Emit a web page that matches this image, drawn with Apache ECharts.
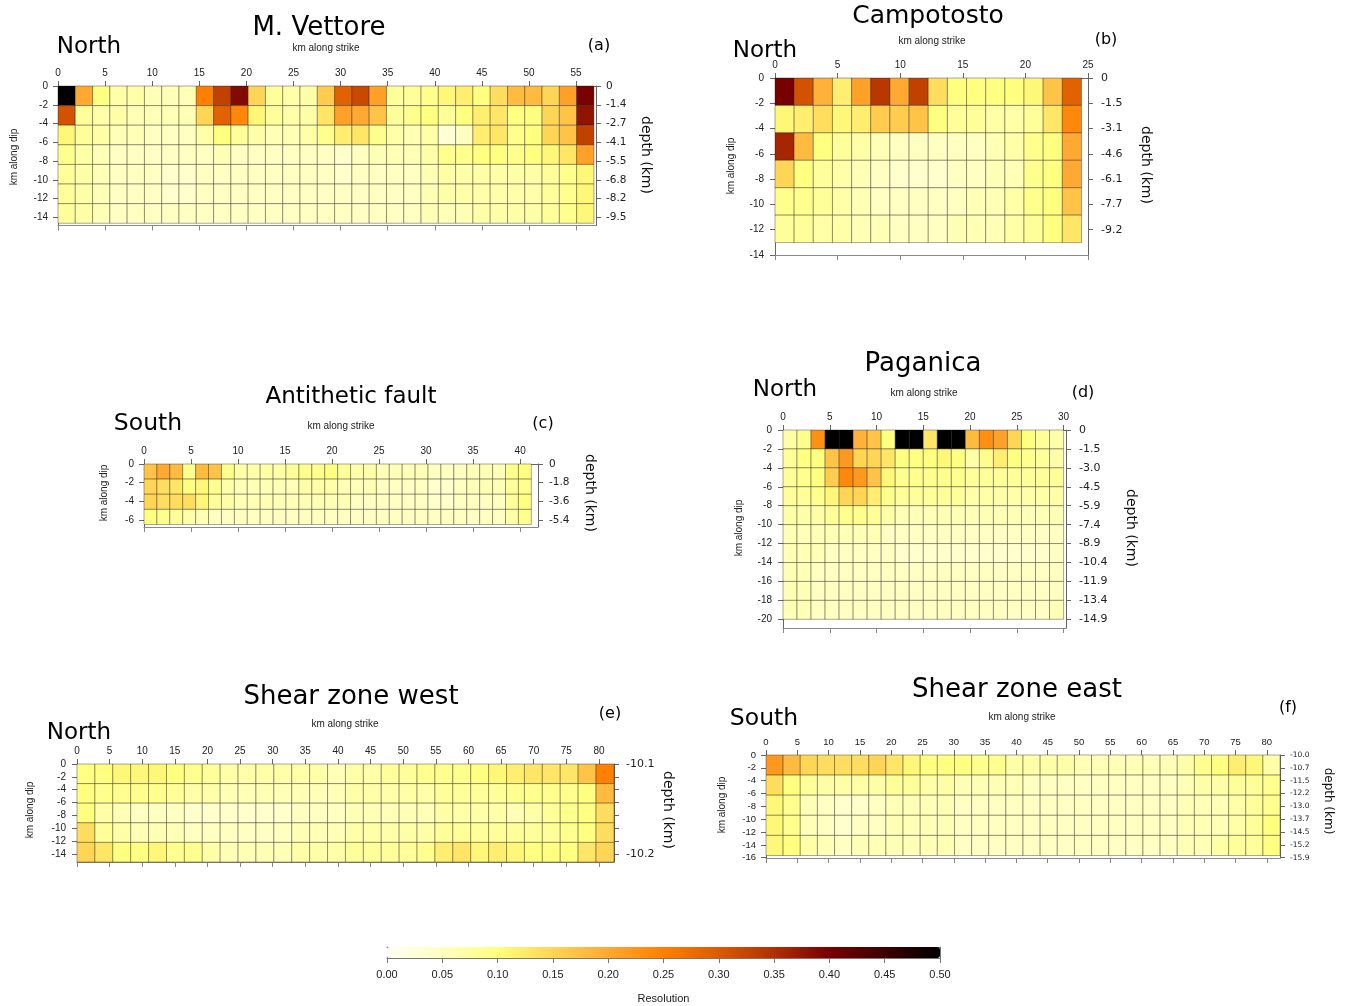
<!DOCTYPE html>
<html>
<head>
<meta charset="utf-8">
<title>Fault patch resolution</title>
<script src="https://cdn.jsdelivr.net/npm/echarts@6/dist/echarts.min.js"></script>
<style>
  html, body { margin: 0; padding: 0; background: #fff; }
  #chart { width: 1347px; height: 1006px; }
</style>
</head>
<body>
<div id="chart"></div>
<script>
// ---- Resolution of each fault patch: rows go down-dip from the top edge, columns along strike ----
const vettoreResolution = [
  [0.50,0.20,0.10,0.07,0.07,0.06,0.06,0.06,0.25,0.33,0.39,0.15,0.08,0.07,0.07,0.16,0.29,0.32,0.21,0.08,0.08,0.09,0.11,0.12,0.10,0.14,0.18,0.18,0.15,0.21,0.40],
  [0.31,0.08,0.07,0.07,0.06,0.06,0.06,0.06,0.15,0.29,0.24,0.11,0.08,0.07,0.07,0.13,0.21,0.20,0.17,0.08,0.09,0.10,0.08,0.10,0.12,0.13,0.10,0.10,0.15,0.17,0.38],
  [0.11,0.08,0.07,0.06,0.06,0.05,0.05,0.05,0.07,0.10,0.08,0.07,0.06,0.06,0.07,0.09,0.12,0.13,0.09,0.07,0.06,0.07,0.03,0.05,0.12,0.13,0.09,0.10,0.15,0.17,0.33],
  [0.09,0.07,0.06,0.05,0.05,0.05,0.05,0.05,0.05,0.06,0.05,0.05,0.05,0.05,0.05,0.05,0.04,0.05,0.06,0.06,0.06,0.07,0.09,0.09,0.10,0.10,0.09,0.10,0.11,0.13,0.21],
  [0.08,0.07,0.06,0.05,0.05,0.05,0.04,0.04,0.05,0.05,0.05,0.05,0.05,0.05,0.05,0.05,0.04,0.05,0.05,0.05,0.05,0.06,0.07,0.07,0.07,0.07,0.07,0.07,0.08,0.09,0.11],
  [0.08,0.07,0.06,0.05,0.05,0.05,0.04,0.04,0.05,0.05,0.05,0.05,0.05,0.05,0.05,0.05,0.05,0.05,0.05,0.05,0.05,0.06,0.07,0.07,0.07,0.07,0.07,0.07,0.08,0.09,0.11],
  [0.08,0.07,0.06,0.05,0.05,0.05,0.05,0.05,0.05,0.05,0.05,0.05,0.05,0.05,0.05,0.05,0.05,0.05,0.05,0.05,0.05,0.06,0.06,0.06,0.07,0.07,0.07,0.07,0.08,0.09,0.11]
];
const campotostoResolution = [
  [0.40,0.31,0.19,0.12,0.21,0.34,0.20,0.33,0.14,0.10,0.10,0.10,0.10,0.11,0.17,0.29],
  [0.11,0.12,0.14,0.11,0.12,0.16,0.16,0.17,0.10,0.08,0.08,0.07,0.07,0.08,0.13,0.24],
  [0.36,0.18,0.10,0.08,0.07,0.06,0.05,0.05,0.05,0.05,0.05,0.06,0.07,0.09,0.10,0.20],
  [0.15,0.10,0.08,0.07,0.06,0.05,0.04,0.04,0.04,0.05,0.05,0.06,0.06,0.09,0.10,0.20],
  [0.09,0.09,0.08,0.07,0.06,0.05,0.05,0.05,0.05,0.05,0.06,0.06,0.07,0.09,0.10,0.17],
  [0.08,0.08,0.07,0.07,0.06,0.06,0.05,0.05,0.05,0.06,0.06,0.06,0.07,0.08,0.10,0.13]
];
const antitheticResolution = [
  [0.17,0.20,0.18,0.09,0.18,0.17,0.09,0.07,0.07,0.07,0.07,0.08,0.09,0.09,0.10,0.08,0.07,0.07,0.06,0.06,0.06,0.06,0.05,0.05,0.05,0.06,0.06,0.06,0.09,0.10],
  [0.15,0.14,0.13,0.10,0.11,0.09,0.07,0.06,0.06,0.06,0.06,0.06,0.07,0.07,0.07,0.06,0.06,0.06,0.05,0.05,0.05,0.05,0.04,0.04,0.05,0.06,0.06,0.06,0.08,0.09],
  [0.15,0.14,0.14,0.14,0.11,0.08,0.07,0.06,0.06,0.06,0.06,0.06,0.06,0.06,0.06,0.06,0.05,0.05,0.05,0.05,0.05,0.05,0.04,0.04,0.05,0.05,0.05,0.05,0.08,0.10],
  [0.10,0.09,0.08,0.07,0.06,0.05,0.05,0.05,0.05,0.05,0.05,0.05,0.05,0.05,0.05,0.05,0.05,0.05,0.05,0.05,0.05,0.05,0.05,0.05,0.05,0.05,0.05,0.05,0.07,0.09]
];
const paganicaResolution = [
  [0.07,0.09,0.23,0.50,0.50,0.19,0.17,0.10,0.50,0.50,0.13,0.50,0.50,0.18,0.23,0.21,0.15,0.10,0.08,0.07],
  [0.08,0.10,0.10,0.17,0.22,0.15,0.15,0.13,0.10,0.10,0.10,0.11,0.10,0.07,0.09,0.12,0.10,0.09,0.08,0.07],
  [0.08,0.09,0.10,0.16,0.24,0.22,0.17,0.11,0.09,0.09,0.09,0.09,0.09,0.08,0.08,0.08,0.08,0.08,0.08,0.08],
  [0.08,0.08,0.09,0.11,0.15,0.15,0.12,0.09,0.08,0.08,0.08,0.08,0.08,0.07,0.07,0.07,0.07,0.07,0.07,0.07],
  [0.07,0.07,0.07,0.08,0.09,0.09,0.08,0.07,0.06,0.06,0.06,0.06,0.06,0.06,0.06,0.06,0.06,0.06,0.06,0.06],
  [0.06,0.06,0.06,0.06,0.06,0.06,0.06,0.05,0.05,0.05,0.05,0.05,0.05,0.05,0.05,0.05,0.05,0.05,0.05,0.05],
  [0.06,0.06,0.06,0.05,0.05,0.05,0.05,0.05,0.04,0.04,0.04,0.04,0.04,0.04,0.04,0.04,0.04,0.04,0.04,0.05],
  [0.06,0.06,0.05,0.05,0.05,0.05,0.05,0.05,0.05,0.05,0.05,0.05,0.05,0.05,0.05,0.05,0.05,0.05,0.05,0.05],
  [0.06,0.06,0.05,0.05,0.05,0.05,0.05,0.05,0.05,0.05,0.05,0.05,0.05,0.05,0.05,0.05,0.05,0.05,0.05,0.05],
  [0.06,0.06,0.05,0.05,0.05,0.05,0.05,0.05,0.05,0.05,0.05,0.05,0.05,0.05,0.05,0.05,0.05,0.05,0.05,0.06]
];
const shearWestResolution = [
  [0.10,0.10,0.11,0.11,0.11,0.10,0.09,0.08,0.07,0.07,0.07,0.07,0.07,0.07,0.06,0.07,0.07,0.08,0.08,0.09,0.09,0.09,0.10,0.11,0.12,0.13,0.13,0.13,0.17,0.25],
  [0.10,0.09,0.09,0.09,0.09,0.08,0.07,0.07,0.06,0.06,0.06,0.06,0.06,0.06,0.06,0.07,0.07,0.07,0.07,0.07,0.08,0.08,0.08,0.08,0.09,0.09,0.09,0.09,0.10,0.18],
  [0.10,0.07,0.06,0.05,0.05,0.05,0.04,0.04,0.04,0.04,0.04,0.04,0.05,0.05,0.05,0.06,0.06,0.06,0.06,0.06,0.07,0.07,0.07,0.07,0.06,0.07,0.08,0.09,0.10,0.14],
  [0.14,0.08,0.07,0.06,0.06,0.06,0.05,0.05,0.05,0.05,0.05,0.05,0.06,0.06,0.06,0.07,0.07,0.07,0.07,0.07,0.08,0.08,0.08,0.08,0.08,0.08,0.08,0.09,0.10,0.14],
  [0.15,0.13,0.10,0.10,0.11,0.09,0.09,0.07,0.06,0.06,0.06,0.06,0.07,0.07,0.07,0.08,0.08,0.08,0.08,0.09,0.12,0.13,0.11,0.12,0.11,0.10,0.10,0.10,0.13,0.15]
];
const shearEastResolution = [
  [0.22,0.18,0.15,0.14,0.14,0.14,0.15,0.13,0.11,0.10,0.10,0.10,0.09,0.09,0.07,0.07,0.07,0.07,0.06,0.06,0.06,0.06,0.06,0.06,0.07,0.09,0.10,0.12,0.11,0.07],
  [0.14,0.10,0.08,0.07,0.07,0.07,0.07,0.08,0.08,0.07,0.07,0.06,0.06,0.06,0.06,0.05,0.05,0.05,0.05,0.05,0.05,0.05,0.05,0.05,0.06,0.07,0.07,0.08,0.08,0.09],
  [0.11,0.09,0.06,0.05,0.04,0.04,0.05,0.06,0.06,0.06,0.06,0.05,0.05,0.05,0.05,0.05,0.05,0.05,0.05,0.05,0.05,0.05,0.05,0.05,0.06,0.06,0.06,0.07,0.08,0.09],
  [0.11,0.09,0.06,0.05,0.04,0.05,0.05,0.06,0.06,0.06,0.06,0.05,0.05,0.05,0.05,0.05,0.05,0.05,0.05,0.05,0.05,0.05,0.05,0.05,0.06,0.06,0.06,0.07,0.08,0.10],
  [0.11,0.10,0.07,0.06,0.05,0.06,0.06,0.06,0.06,0.06,0.06,0.05,0.05,0.05,0.05,0.05,0.05,0.05,0.05,0.05,0.05,0.05,0.05,0.05,0.06,0.06,0.07,0.08,0.08,0.10]
];

// ---- Patch size in km: [along strike, along dip] ----
const vettorePatchKm    = [1.8355, 2.09];
const campotostoPatchKm = [1.53, 2.17];
const antitheticPatchKm = [1.373, 1.62];
const paganicaPatchKm   = [1.5, 2.0];
const shearWestPatchKm  = [2.743, 3.048];
const shearEastPatchKm  = [2.737, 3.13];

// ---- Tick values and labels ----
const vettoreStrikeTicks = [0,5,10,15,20,25,30,35,40,45,50,55];
const vettoreDipTicks = [0,-2,-4,-6,-8,-10,-12,-14];
const vettoreDepthLabels = ['0','-1.4','-2.7','-4.1','-5.5','-6.8','-8.2','-9.5'];

const campotostoStrikeTicks = [0,5,10,15,20,25];
const campotostoDipTicks = [0,-2,-4,-6,-8,-10,-12,-14];
const campotostoDepthTicks = [0,-2,-4,-6,-8,-10,-12];
const campotostoDepthLabels = ['0','-1.5','-3.1','-4.6','-6.1','-7.7','-9.2'];

const antitheticStrikeTicks = [0,5,10,15,20,25,30,35,40];
const antitheticDipTicks = [0,-2,-4,-6];
const antitheticDepthLabels = ['0','-1.8','-3.6','-5.4'];

const paganicaStrikeTicks = [0,5,10,15,20,25,30];
const paganicaDipTicks = [0,-2,-4,-6,-8,-10,-12,-14,-16,-18,-20];
const paganicaDepthLabels = ['0','-1.5','-3.0','-4.5','-5.9','-7.4','-8.9','-10.4','-11.9','-13.4','-14.9'];

const shearWestStrikeTicks = [0,5,10,15,20,25,30,35,40,45,50,55,60,65,70,75,80];
const shearWestDipTicks = [0,-2,-4,-6,-8,-10,-12,-14];
const shearWestDepthLabels = ['-10.1','','','','','','','-10.2'];

const shearEastStrikeTicks = [0,5,10,15,20,25,30,35,40,45,50,55,60,65,70,75,80];
const shearEastDipTicks = [0,-2,-4,-6,-8,-10,-12,-14,-16];
const shearEastDepthLabels = ['-10.0','-10.7','-11.5','-12.2','-13.0','-13.7','-14.5','-15.2','-15.9'];

const resolutionTicks = [0,0.05,0.10,0.15,0.20,0.25,0.30,0.35,0.40,0.45,0.50];
// colour at each resolution tick (white -> yellow -> orange -> dark red -> black)
const resolutionColors = ['#FFFFF4','#FFFFC2','#FFFF80','#FFD556','#FFA832','#FF8000','#DB5A00','#B03000','#780000','#3C0000','#000000'];

// ---- Panel layout ----
const DEJAVU = '"DejaVu Sans"';
const LIB = '"Liberation Sans"';

const panels = [
  { title: 'M. Vettore', side: 'North', tag: '(a)', res: vettoreResolution, patch: vettorePatchKm,
    strike: vettoreStrikeTicks, dip: vettoreDipTicks, depthAt: vettoreDipTicks, depth: vettoreDepthLabels,
    box: [58, 86, 538, 139.5], xMax: 57.12, yMin: -14.87, tickFont: 10, depthFont: 10.5, lm: 10, rm: 10,
    at: { title: [319, 28, 26], side: [89, 47, 23], tag: [599, 46, 16], strike: [326, 48], dip: [14, 157], depth: [646, 155, 14] } },
  { title: 'Campotosto', side: 'North', tag: '(b)', res: campotostoResolution, patch: campotostoPatchKm,
    strike: campotostoStrikeTicks, dip: campotostoDipTicks, depthAt: campotostoDepthTicks, depth: campotostoDepthLabels,
    box: [775, 78, 313, 177], xMax: 25, yMin: -14, tickFont: 10, depthFont: 11, lm: 11, rm: 13,
    at: { title: [928, 16, 25], side: [765, 51, 23], tag: [1106, 40, 16], strike: [932, 41], dip: [731, 166], depth: [1146, 165, 14] } },
  { title: 'Antithetic fault', side: 'South', tag: '(c)', res: antitheticResolution, patch: antitheticPatchKm,
    strike: antitheticStrikeTicks, dip: antitheticDipTicks, depthAt: antitheticDipTicks, depth: antitheticDepthLabels,
    box: [144, 464, 394, 63], xMax: 41.9, yMin: -6.75, tickFont: 10, depthFont: 10.5, lm: 10, rm: 11,
    at: { title: [351, 397, 23], side: [148, 424, 23.5], tag: [543, 424, 16], strike: [341, 426], dip: [104, 493], depth: [590, 493, 14] } },
  { title: 'Paganica', side: 'North', tag: '(d)', res: paganicaResolution, patch: paganicaPatchKm,
    strike: paganicaStrikeTicks, dip: paganicaDipTicks, depthAt: paganicaDipTicks, depth: paganicaDepthLabels,
    box: [783, 430, 283, 198], xMax: 30.26, yMin: -20.92, tickFont: 10, depthFont: 11, lm: 11, rm: 13,
    at: { title: [923, 364, 26], side: [785, 390, 23], tag: [1083, 393, 16], strike: [924, 393], dip: [739, 528], depth: [1131, 528, 14] } },
  { title: 'Shear zone west', side: 'North', tag: '(e)', res: shearWestResolution, patch: shearWestPatchKm,
    strike: shearWestStrikeTicks, dip: shearWestDipTicks, depthAt: shearWestDipTicks, depth: shearWestDepthLabels,
    box: [77, 764, 537, 98], xMax: 82.3, yMin: -15.24, tickFont: 10, depthFont: 11, lm: 11, rm: 12,
    at: { title: [351, 697, 26], side: [79, 733, 23], tag: [610, 714, 16], strike: [345, 724], dip: [30, 810], depth: [668, 810, 14] } },
  { title: 'Shear zone east', side: 'South', tag: '(f)', res: shearEastResolution, patch: shearEastPatchKm,
    strike: shearEastStrikeTicks, dip: shearEastDipTicks, depthAt: shearEastDipTicks, depth: shearEastDepthLabels,
    box: [766, 755, 514, 103], xMax: 82.1, yMin: -16.04, tickFont: 9.5, depthFont: 7.5, lm: 10, rm: 10,
    at: { title: [1017, 690, 26], side: [764, 719, 23.5], tag: [1288, 708, 16], strike: [1022, 717], dip: [722, 805], depth: [1328, 801, 12] } }
];

// one rectangle per patch: [x0, x1, yTop, yBottom, resolution]
function patchesOf(values, size) {
  const out = [];
  values.forEach((row, r) => row.forEach((v, c) => {
    out.push([c * size[0], (c + 1) * size[0], -r * size[1], -(r + 1) * size[1], v]);
  }));
  return out;
}

function renderPatch(params, api) {
  const a = api.coord([api.value(0), api.value(2)]);
  const b = api.coord([api.value(1), api.value(3)]);
  return {
    type: 'rect',
    shape: { x: a[0], y: a[1], width: b[0] - a[0], height: b[1] - a[1] },
    style: { fill: api.visual('color'), stroke: 'rgba(25,25,25,0.62)', lineWidth: 0.6 }
  };
}

const AXIS_COLOR = '#666';
function axisBase() {
  return {
    type: 'value',
    axisLine: { show: true, onZero: false, lineStyle: { color: AXIS_COLOR, width: 1 } },
    splitLine: { show: false },
    silent: true
  };
}

function text(str, x, y, size, family, rot, color) {
  return {
    type: 'text', x: x, y: y, rotation: rot || 0, silent: true,
    style: { text: str, fill: color || '#000', font: size + 'px ' + family, align: 'center', verticalAlign: 'middle' }
  };
}

const grid = [], xAxis = [], yAxis = [], series = [], graphic = [];

panels.forEach((p, i) => {
  grid.push({ left: p.box[0], top: p.box[1], width: p.box[2], height: p.box[3], containLabel: false, outerBoundsMode: 'none' });

  // top axis: km along strike, labelled
  xAxis.push(Object.assign(axisBase(), {
    gridIndex: i, position: 'top', min: 0, max: p.xMax,
    axisTick: { show: true, length: 5, customValues: p.strike, lineStyle: { color: AXIS_COLOR } },
    axisLabel: { show: true, customValues: p.strike, margin: 8, color: '#222', fontFamily: LIB, fontSize: p.tickFont }
  }));
  // bottom axis: ticks only
  xAxis.push(Object.assign(axisBase(), {
    gridIndex: i, position: 'bottom', min: 0, max: p.xMax,
    axisLine: { show: true, onZero: false, lineStyle: { color: '#888', width: 1 } },
    axisTick: { show: true, length: 5, customValues: p.strike, lineStyle: { color: '#888' } },
    axisLabel: { show: false }
  }));
  // left axis: km along dip
  yAxis.push(Object.assign(axisBase(), {
    gridIndex: i, position: 'left', min: p.yMin, max: 0,
    axisTick: { show: true, length: 5, customValues: p.dip, lineStyle: { color: AXIS_COLOR } },
    axisLabel: { show: true, customValues: p.dip, margin: p.lm, color: '#222', fontFamily: LIB, fontSize: p.tickFont }
  }));
  // right axis: depth in km at the same down-dip positions
  const depthAt = p.depthAt, depth = p.depth;
  yAxis.push(Object.assign(axisBase(), {
    gridIndex: i, position: 'right', min: p.yMin, max: 0,
    axisTick: { show: true, length: 5, customValues: depthAt, lineStyle: { color: AXIS_COLOR } },
    axisLabel: {
      show: true, customValues: depthAt, margin: p.rm, color: '#222', fontFamily: DEJAVU, fontSize: p.depthFont,
      formatter: v => { const k = depthAt.indexOf(v); return k >= 0 ? depth[k] : ''; }
    }
  }));

  series.push({
    type: 'custom', name: p.title, coordinateSystem: 'cartesian2d',
    xAxisIndex: 2 * i, yAxisIndex: 2 * i,
    data: patchesOf(p.res, p.patch),
    encode: { x: [0, 1], y: [2, 3] },
    renderItem: renderPatch, silent: true, animation: false
  });

  const t = p.at;
  graphic.push(text(p.title, t.title[0], t.title[1], t.title[2], DEJAVU));
  graphic.push(text(p.side, t.side[0], t.side[1], t.side[2], DEJAVU));
  graphic.push(text(p.tag, t.tag[0], t.tag[1], t.tag[2], DEJAVU));
  graphic.push(text('km along strike', t.strike[0], t.strike[1], 10, LIB, 0, '#222'));
  graphic.push(text('km along dip', t.dip[0], t.dip[1], 10, LIB, Math.PI / 2, '#222'));
  graphic.push(text('depth (km)', t.depth[0], t.depth[1], t.depth[2], DEJAVU, -Math.PI / 2, '#111'));
});

// colour bar frame and its resolution axis
const cb = panels.length;
grid.push({ left: 387, top: 947, width: 553, height: 11, containLabel: false, outerBoundsMode: 'none' });
xAxis.push(Object.assign(axisBase(), {
  gridIndex: cb, position: 'bottom', min: 0, max: 0.5,
  axisLine: { show: true, onZero: false, lineStyle: { color: '#777', width: 1 } },
  axisTick: { show: true, length: 5, customValues: resolutionTicks, lineStyle: { color: '#777' } },
  axisLabel: { show: true, customValues: resolutionTicks, margin: 11, color: '#222', fontFamily: LIB, fontSize: 11,
               formatter: v => v.toFixed(2) },
  name: 'Resolution', nameLocation: 'middle', nameGap: 35,
  nameTextStyle: { color: '#222', fontFamily: LIB, fontSize: 11 }
}));
xAxis.push(Object.assign(axisBase(), {
  gridIndex: cb, position: 'top', min: 0, max: 0.5,
  axisLine: { show: true, onZero: false, lineStyle: { color: '#777', width: 1 } },
  axisTick: { show: false }, axisLabel: { show: false }
}));
yAxis.push(Object.assign(axisBase(), {
  gridIndex: cb, position: 'left', min: 0, max: 1,
  axisLine: { show: true, onZero: false, lineStyle: { color: '#777', width: 1 } },
  axisTick: { show: false }, axisLabel: { show: false }
}));
yAxis.push(Object.assign(axisBase(), {
  gridIndex: cb, position: 'right', min: 0, max: 1,
  axisLine: { show: true, onZero: false, lineStyle: { color: '#777', width: 1 } },
  axisTick: { show: false }, axisLabel: { show: false }
}));

const chart = echarts.init(document.getElementById('chart'), null, { renderer: 'canvas' });
chart.setOption({
  backgroundColor: '#ffffff',
  animation: false,
  grid: grid,
  xAxis: xAxis,
  yAxis: yAxis,
  visualMap: {
    type: 'continuous', min: 0, max: 0.5, dimension: 4,
    seriesIndex: panels.map((p, i) => i),
    orient: 'horizontal', left: 387, top: 947, itemHeight: 553, itemWidth: 11,
    padding: 0, calculable: false, hoverLink: false, realtime: false,
    inRange: { color: resolutionColors }
  },
  series: series,
  graphic: graphic
});
</script>
</body>
</html>
